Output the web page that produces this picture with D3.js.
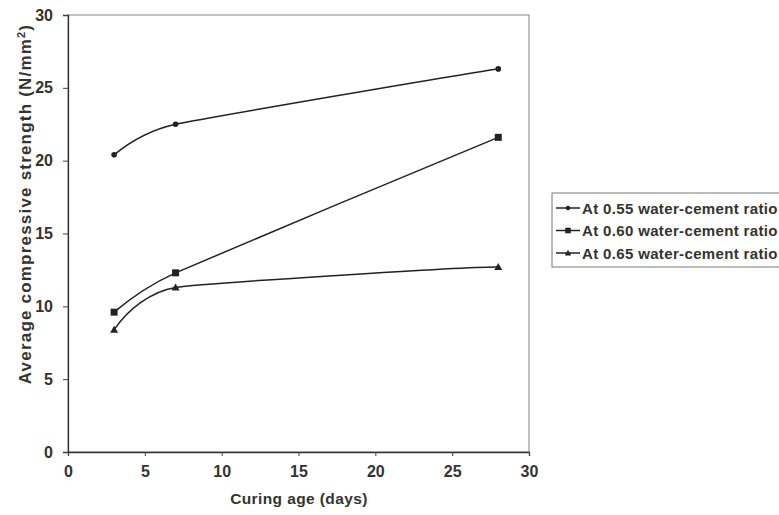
<!DOCTYPE html>
<html><head><meta charset="utf-8">
<script src="https://cdn.jsdelivr.net/npm/d3@7"></script>
<style>body{margin:0;background:#fff}svg{display:block}</style>
</head><body>
<svg id="c" width="779" height="515"></svg>
<script>
const days = [3, 7, 28];
const s055 = [20.4, 22.5, 26.3];
const s060 = [9.6, 12.3, 21.6];
const s065 = [8.4, 11.3, 12.7];
const seriesNames = ["At 0.55 water-cement ratio", "At 0.60 water-cement ratio", "At 0.65 water-cement ratio"];
const xTicks = [0, 5, 10, 15, 20, 25, 30];
const yTicks = [0, 5, 10, 15, 20, 25, 30];

const series = [
  {name: seriesNames[0], values: s055, marker: "circle"},
  {name: seriesNames[1], values: s060, marker: "square"},
  {name: seriesNames[2], values: s065, marker: "triangle"}
];

const svg = d3.select("#c");
const L = 68, R = 529, T = 15, B = 452;
const x = d3.scaleLinear().domain([0, 30]).range([L, R]);
const y = d3.scaleLinear().domain([0, 30]).range([B, T]);
const ink = "#222";
const font = "'Liberation Sans', Arial, sans-serif";

// frame
svg.append("rect").attr("x", L).attr("y", T).attr("width", R - L).attr("height", B - T)
  .attr("fill", "none").attr("stroke", "#888").attr("stroke-width", 1);

const xa = svg.append("g").attr("transform", `translate(0,${B})`)
  .call(d3.axisBottom(x).tickValues(xTicks).tickSize(4).tickPadding(10).tickFormat(d3.format("d")));
const ya = svg.append("g").attr("transform", `translate(${L},0)`)
  .call(d3.axisLeft(y).tickValues(yTicks).tickSize(5).tickPadding(10).tickFormat(d3.format("d")));
[xa, ya].forEach(a => {
  a.select(".domain").attr("stroke", "#333").attr("stroke-width", 1.3);
  a.selectAll(".tick line").attr("stroke", "#444");
  a.selectAll("text").attr("font-family", font).attr("font-size", 16).attr("font-weight", "bold").attr("fill", "#333");
});

svg.append("text").attr("x", 299).attr("y", 504).attr("text-anchor", "middle")
  .attr("font-family", font).attr("font-size", 15.5).attr("font-weight", "bold").attr("fill", "#333")
  .attr("letter-spacing", 0.4)
  .text("Curing age (days)");
const yt = svg.append("text").attr("transform", "translate(31,204) rotate(-90)").attr("text-anchor", "middle")
  .attr("font-family", font).attr("font-size", 17).attr("font-weight", "bold").attr("fill", "#333")
  .attr("letter-spacing", 1.2);
yt.append("tspan").text("Average compressive strength (N/mm");
yt.append("tspan").attr("dy", -6).attr("font-size", 11).text("2");
yt.append("tspan").attr("dy", 6).text(")");

// Excel-like smoothing: tangent directions from neighbours, control arms limited by the shorter adjacent segment
function smoothPath(vals) {
  const P = vals.map((v, i) => [x(days[i]), y(v)]);
  const n = P.length;
  const unit = (a, b) => { const dx = b[0] - a[0], dy = b[1] - a[1], l = Math.hypot(dx, dy) || 1; return [dx / l, dy / l]; };
  const seg = [];
  for (let i = 0; i < n - 1; i++) seg[i] = Math.hypot(P[i + 1][0] - P[i][0], P[i + 1][1] - P[i][1]);
  const tan = [], arm = [];
  for (let i = 1; i < n - 1; i++) { tan[i] = unit(P[i - 1], P[i + 1]); arm[i] = Math.min(seg[i - 1], seg[i]) / 3; }
  const refl = (c, t) => { const r = [2 * c[0] - t[0], 2 * c[1] - t[1]], l = Math.hypot(r[0], r[1]); return [r[0] / l, r[1] / l]; };
  if (n > 2) {
    tan[0] = refl(unit(P[0], P[1]), tan[1]); arm[0] = Math.min(seg[0], seg[1]) / 3;
    tan[n - 1] = refl(unit(P[n - 2], P[n - 1]), tan[n - 2]); arm[n - 1] = Math.min(seg[n - 2], seg[n - 3]) / 3;
  } else { tan[0] = tan[1] = unit(P[0], P[1]); arm[0] = arm[1] = seg[0] / 3; }
  const p = d3.path();
  p.moveTo(P[0][0], P[0][1]);
  for (let i = 0; i < n - 1; i++) {
    p.bezierCurveTo(P[i][0] + tan[i][0] * arm[i], P[i][1] + tan[i][1] * arm[i],
      P[i + 1][0] - tan[i + 1][0] * arm[i + 1], P[i + 1][1] - tan[i + 1][1] * arm[i + 1], P[i + 1][0], P[i + 1][1]);
  }
  return p.toString();
}

function marker(g, type, cx, cy, s) {
  if (type === "circle") g.append("circle").attr("cx", cx).attr("cy", cy).attr("r", 2.8 * s).attr("fill", ink);
  else if (type === "square") g.append("rect").attr("x", cx - 3.5 * s).attr("y", cy - 3.5 * s).attr("width", 7 * s).attr("height", 7 * s).attr("fill", ink);
  else g.append("path").attr("d", `M${cx},${cy - 4 * s}L${cx + 4 * s},${cy + 3 * s}L${cx - 4 * s},${cy + 3 * s}Z`).attr("fill", ink);
}

series.forEach(s => {
  svg.append("path").attr("d", smoothPath(s.values)).attr("fill", "none").attr("stroke", ink).attr("stroke-width", 1.5);
  s.values.forEach((v, i) => marker(svg, s.marker, x(days[i]), y(v), 1));
});

// legend
const lg = svg.append("g");
lg.append("rect").attr("x", 552).attr("y", 193).attr("width", 240).attr("height", 74)
  .attr("fill", "#fff").attr("stroke", "#777").attr("stroke-width", 1);
series.forEach((s, i) => {
  const ly = 208 + i * 22.5;
  lg.append("line").attr("x1", 556).attr("x2", 580).attr("y1", ly).attr("y2", ly).attr("stroke", ink).attr("stroke-width", 1.5);
  marker(lg, s.marker, 568, ly, 0.8);
  lg.append("text").attr("x", 582).attr("y", ly + 5.5).attr("font-family", font).attr("font-size", 15)
    .attr("font-weight", "bold").attr("fill", "#333").attr("letter-spacing", 0.35).text(s.name);
});
</script>
</body></html>
